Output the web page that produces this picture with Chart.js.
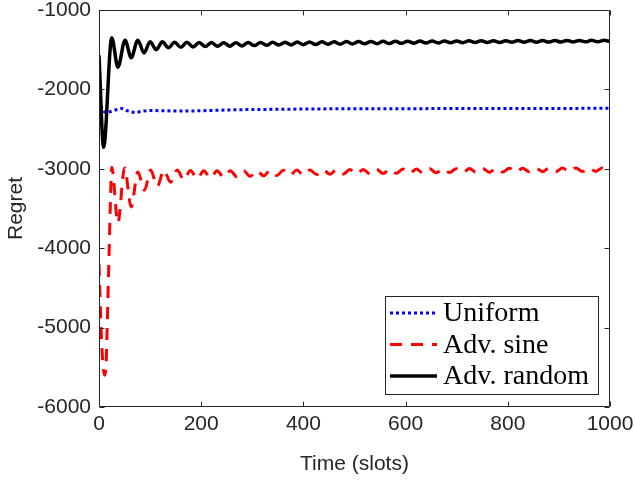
<!DOCTYPE html>
<html><head><meta charset="utf-8">
<script src="https://cdn.jsdelivr.net/npm/chart.js@4/dist/chart.umd.min.js"></script>
<style>html,body{margin:0;padding:0;background:#fff;overflow:hidden}</style>
</head><body>
<canvas id="c" width="635" height="480"></canvas>
<script>
// ---- data ----
const seriesNames = ['Uniform', 'Adv. sine', 'Adv. random'];
const xTicks = [0, 200, 400, 600, 800, 1000];
const yTicks = [-6000, -5000, -4000, -3000, -2000, -1000];

const timeUniform = [0, 3, 6, 14, 22, 32, 45, 56, 70, 85, 100, 130, 170, 220, 280, 360, 450, 550, 650, 750, 850, 1000];
const regretUniform = [-1900, -2150, -2240, -2290, -2280, -2260, -2240, -2270, -2290, -2275, -2265, -2270, -2272, -2265, -2255, -2250, -2245, -2243, -2242, -2240, -2240, -2238];

const timeSine = [0, 4, 7, 11, 14, 16, 18, 20, 22, 25, 37, 50, 63, 76, 89, 101, 114, 127, 140, 153, 166, 179, 192, 205, 218, 231, 244, 257, 270, 283, 296, 309, 322, 335, 348, 361, 374, 387, 400, 413, 426, 439, 452, 465, 478, 491, 504, 517, 530, 543, 556, 569, 582, 595, 608, 621, 634, 647, 660, 673, 686, 699, 712, 725, 738, 751, 764, 777, 790, 803, 816, 829, 842, 855, 868, 881, 894, 907, 920, 933, 946, 959, 972, 985, 998, 1000];
const regretSine = [-4200, -5000, -5400, -5600, -5450, -5000, -4500, -4000, -3500, -2980, -3680, -2990, -3480, -3040, -3270, -3015, -3220, -3020, -3170, -3015, -3140, -3020, -3125, -3025, -3115, -3025, -3105, -3025, -3100, -3025, -3095, -3022, -3090, -3020, -3085, -3018, -3080, -3016, -3077, -3015, -3073, -3013, -3070, -3012, -3067, -3010, -3064, -3008, -3062, -3006, -3060, -3005, -3057, -3003, -3055, -3002, -3053, -3000, -3050, -2999, -3048, -2998, -3046, -2997, -3044, -2996, -3043, -2995, -3041, -2994, -3040, -2993, -3038, -2992, -3037, -2991, -3036, -2990, -3035, -2990, -3034, -2989, -3033, -2989, -3032, -3030];

const timeRandom = [0, 9, 25, 37, 51, 63, 76, 88, 100, 112, 124, 136, 148, 160, 172, 184, 196, 208, 220, 232, 244, 256, 268, 280, 292, 304, 316, 328, 340, 352, 364, 376, 388, 400, 412, 424, 436, 448, 460, 472, 484, 496, 508, 520, 532, 544, 556, 568, 580, 592, 604, 616, 628, 640, 652, 664, 676, 688, 700, 712, 724, 736, 748, 760, 772, 784, 796, 808, 820, 832, 844, 856, 868, 880, 892, 904, 916, 928, 940, 952, 964, 976, 988, 1000];
const regretRandom = [-1570, -2730, -1350, -1720, -1380, -1600, -1380, -1540, -1400, -1500, -1400, -1475, -1405, -1470, -1407, -1465, -1409, -1461, -1410, -1458, -1411, -1455, -1411, -1452, -1410, -1448, -1409, -1445, -1407, -1442, -1405, -1440, -1404, -1437, -1402, -1435, -1401, -1432, -1400, -1430, -1398, -1428, -1397, -1426, -1396, -1424, -1395, -1422, -1394, -1420, -1393, -1418, -1392, -1416, -1391, -1415, -1390, -1413, -1389, -1412, -1388, -1410, -1387, -1409, -1386, -1408, -1386, -1407, -1385, -1406, -1385, -1405, -1384, -1404, -1384, -1403, -1383, -1402, -1383, -1401, -1382, -1400, -1382, -1396];

const pts = (xs, ys) => xs.map((t, i) => ({x: t, y: ys[i]}));
const AX = '#262626';
const FONT = "'Liberation Sans', Arial, Helvetica, sans-serif";

const framePlugin = {
  id: 'frame',
  afterDraw(chart) {
    const {ctx, chartArea: a, scales: {x, y}} = chart;
    ctx.save();
    ctx.strokeStyle = AX; ctx.lineWidth = 1;
    ctx.beginPath();
    const L = Math.round(a.left) + 0.5, R = Math.round(a.right) - 0.5, T = Math.round(a.top) + 0.5, B = Math.round(a.bottom) - 0.5;
    ctx.moveTo(L, T); ctx.lineTo(R, T); ctx.lineTo(R, B); ctx.lineTo(L, B); ctx.closePath();
    x.ticks.forEach(t => {
      const p = Math.round(x.getPixelForValue(t.value)) + 0.5;
      ctx.moveTo(p, B); ctx.lineTo(p, B - 5);
      ctx.moveTo(p, T); ctx.lineTo(p, T + 5);
    });
    y.ticks.forEach(t => {
      const p = Math.round(y.getPixelForValue(t.value)) + 0.5;
      ctx.moveTo(L, p); ctx.lineTo(L + 5, p);
      ctx.moveTo(R, p); ctx.lineTo(R - 5, p);
    });
    ctx.stroke();

    // legend box (inside, lower right)
    const bx = 385.5, by = 296.5, bw = 213, bh = 98;
    ctx.fillStyle = '#fff';
    ctx.fillRect(bx, by, bw, bh);
    ctx.strokeStyle = AX; ctx.lineWidth = 1;
    ctx.strokeRect(bx, by, bw, bh);
    const rowsY = [313, 344.5, 376];
    chart.data.datasets.forEach((ds, i) => {
      ctx.save();
      ctx.strokeStyle = ds.borderColor;
      ctx.lineWidth = ds.borderWidth;
      ctx.setLineDash(ds.borderDash || []);
      ctx.beginPath();
      ctx.moveTo(390, rowsY[i]); ctx.lineTo(437, rowsY[i]);
      ctx.stroke();
      ctx.restore();
      ctx.fillStyle = '#000';
      ctx.font = "28px 'Liberation Serif', 'Times New Roman', serif";
      ctx.textBaseline = 'alphabetic';
      ctx.textAlign = 'left';
      ctx.fillText(ds.label, 443, rowsY[i] + 8);
    });
    ctx.restore();
  }
};

new Chart(document.getElementById('c'), {
  type: 'line',
  data: {
    datasets: [
      {label: seriesNames[0], data: pts(timeUniform, regretUniform), borderColor: '#0000ff', borderWidth: 3, borderDash: [3, 3], order: 3},
      {label: seriesNames[1], data: pts(timeSine, regretSine), borderColor: '#ff0000', borderWidth: 3, borderDash: [12, 9], order: 2},
      {label: seriesNames[2], data: pts(timeRandom, regretRandom), borderColor: '#000000', borderWidth: 3.5, order: 1}
    ]
  },
  options: {
    responsive: false,
    animation: false,
    devicePixelRatio: 1,
    layout: {padding: {top: 10, right: 25, left: 0, bottom: 0}},
    elements: {point: {radius: 0}, line: {cubicInterpolationMode: 'monotone', fill: false, borderCapStyle: 'butt'}},
    plugins: {legend: {display: false}, tooltip: {enabled: false}},
    scales: {
      x: {
        type: 'linear', min: 0, max: 1000,
        afterBuildTicks: s => { s.ticks = xTicks.map(v => ({value: v})); },
        afterFit: s => { s.height = 73; s.paddingLeft = 0; s.paddingRight = 0; },
        grid: {display: false, drawTicks: false},
        border: {display: false},
        ticks: {color: AX, font: {family: FONT, size: 21}, padding: 5, maxRotation: 0, callback: v => String(v)},
        title: {display: true, text: 'Time (slots)', color: AX, font: {family: FONT, size: 21}, padding: {top: 0, bottom: 3}}
      },
      y: {
        type: 'linear', min: -6000, max: -1000,
        afterBuildTicks: s => { s.ticks = yTicks.map(v => ({value: v})); },
        afterFit: s => { s.width = 99; s.paddingTop = 0; s.paddingBottom = 0; },
        grid: {display: false, drawTicks: false},
        border: {display: false},
        ticks: {color: AX, font: {family: FONT, size: 21}, padding: 8, callback: v => String(v)},
        title: {display: true, text: 'Regret', color: AX, font: {family: FONT, size: 21}, padding: {top: 4, bottom: 0}}
      }
    }
  },
  plugins: [framePlugin]
});
</script>
</body></html>
